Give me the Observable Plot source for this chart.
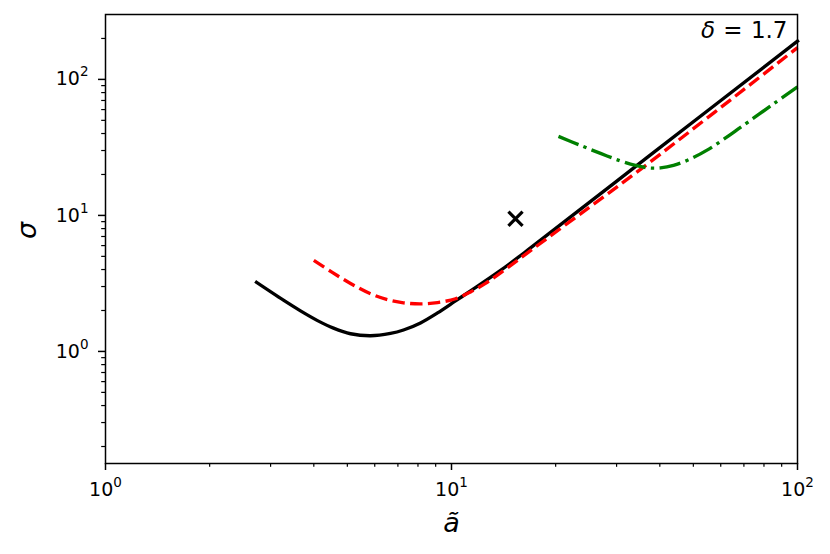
<!DOCTYPE html>
<html>
<head>
<meta charset="utf-8">
<script src="https://cdn.jsdelivr.net/npm/d3@7"></script>
<script src="https://cdn.jsdelivr.net/npm/@observablehq/plot@0.6"></script>
<style>
  html, body { margin: 0; padding: 0; background: #fff; }
  #chart { width: 830px; height: 554px; }
</style>
</head>
<body>
<div id="chart"></div>
<script>
// ---- data ----
const blackA     = [2.732, 3.268, 3.661, 4.100, 4.560, 5.107, 5.834, 6.662, 7.265, 8.136, 9.111, 10.27, 11.35, 13.86, 16.92, 37.59, 100];
const blackSigma = [3.217, 2.380, 1.986, 1.685, 1.483, 1.349, 1.304, 1.356, 1.437, 1.620, 1.919, 2.351, 2.786, 3.941, 5.768, 27.85, 191.2];

const redA     = [4.000, 4.499, 5.107, 5.834, 6.531, 7.265, 8.136, 9.111, 10.27, 11.35, 12.54, 13.86, 17.26, 25.22, 35.88, 100];
const redSigma = [4.669, 3.842, 3.162, 2.657, 2.404, 2.277, 2.235, 2.285, 2.441, 2.738, 3.162, 3.778, 5.719, 11.65, 22.65, 171.1];

const greenA     = [20.38, 23.60, 26.96, 30.79, 34.03, 37.10, 40.19, 43.81, 49.07, 54.94, 61.11, 68.43, 85.22, 100];
const greenSigma = [38.09, 32.71, 28.57, 25.16, 23.32, 22.36, 22.36, 23.32, 26.03, 30.31, 36.22, 44.37, 66.05, 88.08];

const crossA = [15.31];
const crossSigma = [9.46];

const xMajor = [1, 10, 100];
const xTickLabels = ["10^0", "10^1", "10^2"];
const yMajor = [1, 10, 100];
const yTickLabels = ["10^0", "10^1", "10^2"];
const xMinor = [2, 3, 4, 5, 6, 7, 8, 9, 20, 30, 40, 50, 60, 70, 80, 90];
const yMinor = [0.2, 0.3, 0.4, 0.5, 0.6, 0.7, 0.8, 0.9, 2, 3, 4, 5, 6, 7, 8, 9, 20, 30, 40, 50, 60, 70, 80, 90, 200];

const xLabel = "ã";
const yLabel = "σ";
const annotation = "δ = 1.7";

// ---- build tables ----
const toRows = (xs, ys) => xs.map((a, i) => ({a, s: ys[i]}));
const black = toRows(blackA, blackSigma);
const red = toRows(redA, redSigma);
const green = toRows(greenA, greenSigma);
const cross = toRows(crossA, crossSigma);

const LW = 3.35;

const chart = Plot.plot({
  width: 830,
  height: 554,
  marginLeft: 105,
  marginRight: 33,
  marginTop: 14,
  marginBottom: 91,
  style: {fontFamily: "DejaVu Sans", background: "white", color: "black"},
  x: {type: "log", domain: [1, 100]},
  y: {type: "log", domain: [0.15, 300]},
  marks: [
    Plot.line(black, {x: "a", y: "s", stroke: "black", strokeWidth: LW, curve: "catmull-rom", strokeLinecap: "square"}),
    Plot.line(red, {x: "a", y: "s", stroke: "#ff0000", strokeWidth: LW, strokeDasharray: "12.4,5.4", strokeLinecap: "butt", curve: "catmull-rom"}),
    Plot.line(green, {x: "a", y: "s", stroke: "#008000", strokeWidth: LW, strokeDasharray: "21.4,5.4,3.35,5.4", strokeLinecap: "butt", curve: "catmull-rom"}),
    Plot.dot(cross, {x: "a", y: "s", symbol: "times", r: 6.5, stroke: "black", strokeWidth: 3.2}),
    Plot.axisX(xMinor, {tickSize: 3.8, strokeWidth: 1.2, tickFormat: () => "", label: null}),
    Plot.axisY(yMinor, {tickSize: 3.8, strokeWidth: 1.2, tickFormat: () => "", label: null}),
    Plot.axisX(xMajor, {tickSize: 7, tickPadding: 11.5, strokeWidth: 1.5, fontSize: 19,
      tickFormat: d => xTickLabels[xMajor.indexOf(d)], label: null}),
    Plot.axisY(yMajor, {tickSize: 7, tickPadding: 10, strokeWidth: 1.5, fontSize: 19,
      tickFormat: d => yTickLabels[yMajor.indexOf(d)], label: null}),
    Plot.frame({stroke: "black", strokeWidth: 1.5}),
    Plot.text([xLabel], {frameAnchor: "bottom", lineAnchor: "bottom", dy: 68, fontSize: 27, fontStyle: "italic", fill: "black"}),
    Plot.text([yLabel], {frameAnchor: "left", lineAnchor: "bottom", rotate: -90, dx: -70, fontSize: 27, fontStyle: "italic", fill: "black"}),
    Plot.text([annotation], {frameAnchor: "top-right", textAnchor: "end", lineAnchor: "bottom", dx: -10, dy: 23, fontSize: 23, fill: "black"})
  ]
});

// superscripts for tick labels, italic delta in annotation
const NS = "http://www.w3.org/2000/svg";
chart.querySelectorAll("text").forEach(t => {
  const s = t.textContent;
  if (s.includes("^")) {
    const [base, exp] = s.split("^");
    t.textContent = base;
    const sup = document.createElementNS(NS, "tspan");
    sup.setAttribute("font-size", "13.5");
    sup.setAttribute("dy", "-9");
    sup.textContent = exp;
    t.appendChild(sup);
  } else if (s.startsWith("δ")) {
    t.textContent = "";
    const it = document.createElementNS(NS, "tspan");
    it.setAttribute("font-style", "italic");
    it.textContent = "δ";
    t.appendChild(it);
    t.appendChild(document.createTextNode(s.slice(1)));
    t.style.wordSpacing = "1px";
  }
});

document.getElementById("chart").appendChild(chart);
</script>
</body>
</html>
